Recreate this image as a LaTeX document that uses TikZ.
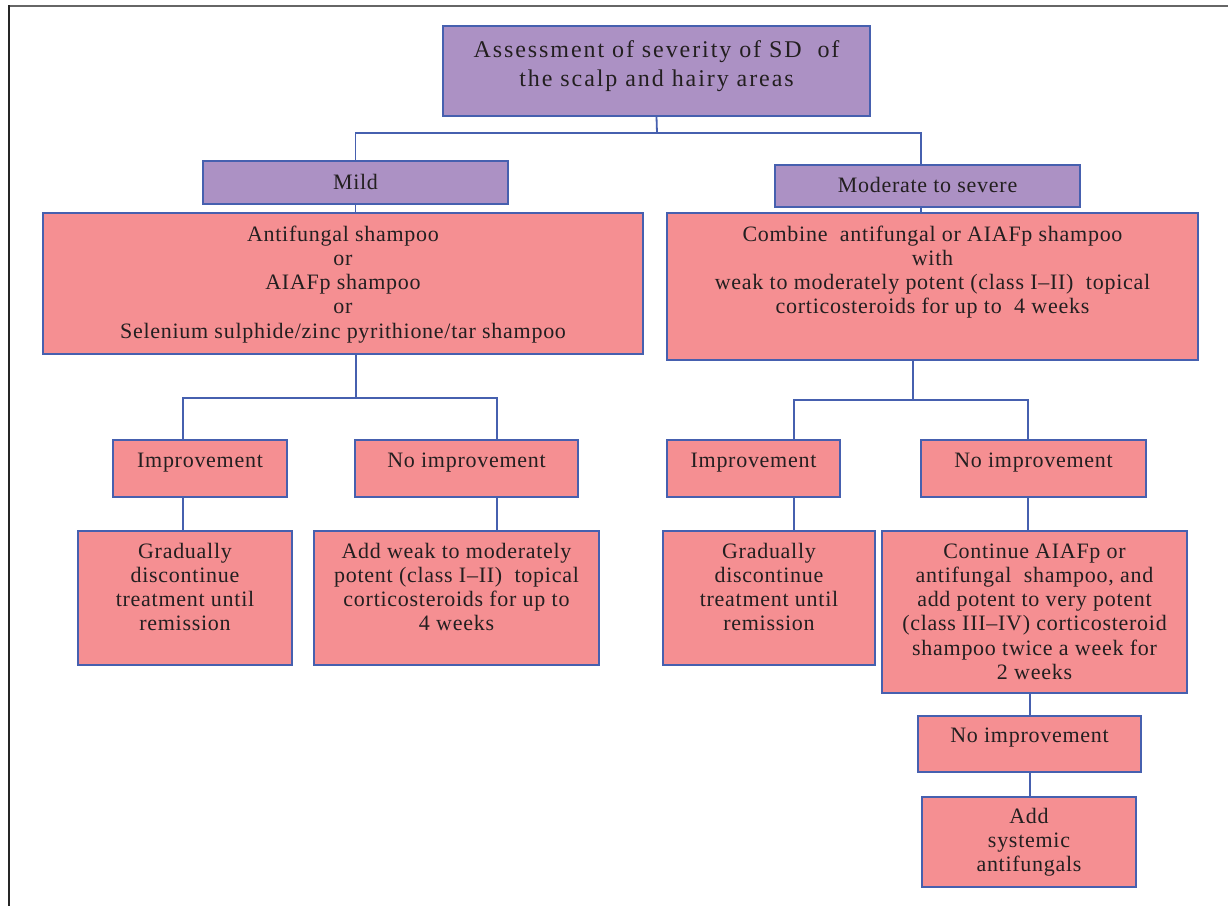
\documentclass[tikz,border=0pt]{standalone}
\usepackage{fontspec}
\setmainfont{Liberation Serif}
\newfontfamily\bodyfont[LetterSpace=3.3]{Liberation Serif}
\newfontfamily\titlefont[LetterSpace=8]{Liberation Serif}
\definecolor{purp}{HTML}{AC91C4}
\definecolor{pinkb}{HTML}{F58F92}
\definecolor{edge}{HTML}{4660AF}
\definecolor{ink}{HTML}{231F20}
\tikzset{
  box/.style={draw=edge, line width=1.6pt, inner sep=0pt},
  pbox/.style={box, fill=pinkb},
  vbox/.style={box, fill=purp},
  txt/.style={inner sep=0pt, anchor=base, text=ink, font=\bodyfont\fontsize{22}{24.3}\selectfont},
  ttl/.style={txt, font=\titlefont\fontsize{24}{29}\selectfont},
  conn/.style={draw=edge, line width=1.8pt},
}
% #1 name, #2 box style, #3 text style, #4 x1, #5 y1, #6 x2, #7 y2, #8 first baseline, #9 text
\newcommand\mybox[9]{%
  \node[#2, minimum width={#6-#4}, minimum height={#7-#5}] (#1) at ({(#4+#6)/2},{(#5+#7)/2}) {};%
  \node[#3] (#1-t) at ({(#4+#6)/2},#8) {\begin{tabular}[t]{@{}c@{}}#9\end{tabular}};%
}
\begin{document}
\begin{tikzpicture}[x=1pt,y=-1pt]
\useasboundingbox (0,0) rectangle (1228,906);
% frame
\draw[line width=2pt, draw=black!60] (8,6) -- (1228,6);
\draw[line width=2.5pt, draw=black!85] (9,5) -- (9,906);

\mybox{top}{vbox}{ttl}{443}{26}{870}{116}{57}{Assessment of severity of SD\ \ of\\the scalp and hairy areas}
\mybox{mild}{vbox}{txt}{203}{161}{508}{204}{189}{Mild}
\mybox{mod}{vbox}{txt}{775}{165}{1080}{207}{192}{Moderate to severe}
\mybox{lbig}{pbox}{txt}{43}{213}{643}{354}{241}{Antifungal shampoo\\or\\AIAFp shampoo\\or\\Selenium sulphide/zinc pyrithione/tar shampoo}
\mybox{rbig}{pbox}{txt}{667}{213}{1198}{360}{241}{Combine\ \ antifungal or AIAFp shampoo\\with\\weak to moderately potent (class I–II)\ \ topical\\corticosteroids for up to\ \ 4 weeks}
\mybox{impL}{pbox}{txt}{113}{440}{287}{497}{467}{Improvement}
\mybox{noL}{pbox}{txt}{355}{440}{578}{497}{467}{No improvement}
\mybox{gradL}{pbox}{txt}{78}{531}{292}{665}{558}{Gradually\\discontinue\\treatment until\\remission}
\mybox{addL}{pbox}{txt}{314}{531}{599}{665}{558}{Add weak to moderately\\potent (class I–II)\ \ topical\\corticosteroids for up to\\4 weeks}
\mybox{impR}{pbox}{txt}{667}{440}{840}{497}{467}{Improvement}
\mybox{noR}{pbox}{txt}{921}{440}{1146}{497}{467}{No improvement}
\mybox{gradR}{pbox}{txt}{663}{531}{875}{665}{558}{Gradually\\discontinue\\treatment until\\remission}
\mybox{cont}{pbox}{txt}{882}{531}{1187}{693}{558}{Continue AIAFp or\\antifungal\ \ shampoo, and\\add potent to very potent\\(class III–IV) corticosteroid\\shampoo twice a week for\\2 weeks}
\mybox{noB}{pbox}{txt}{918}{716}{1141}{772}{742}{No improvement}
\mybox{sys}{pbox}{txt}{922}{797}{1136}{887}{823}{Add\\systemic\\antifungals}

% connectors
\coordinate (b1) at (657,133);
\coordinate (b2) at (356,398);
\coordinate (b3) at (913,400);
\coordinate (b4) at (1030,0);
\draw[conn] (top.south) -- (b1);
\draw[conn] (mild.north) |- (b1) -| ([xshift=-6.5pt]mod.north);
\draw[conn] (mild.south) -- (mild.south |- lbig.north);
\draw[conn] ([xshift=-6.5pt]mod.south) -- ([xshift=-6.5pt]mod.south |- rbig.north);
\draw[conn] (lbig.south -| b2) -- (b2);
\draw[conn] ([xshift=-17pt]impL.north) |- (b2) -| ([xshift=30.5pt]noL.north);
\draw[conn] (rbig.south -| b3) -- (b3);
\draw[conn] ([xshift=40.5pt]impR.north) |- (b3) -| ([xshift=-5.5pt]noR.north);
\draw[conn] ([xshift=-17pt]impL.south) -- ([xshift=-17pt]impL.south |- gradL.north);
\draw[conn] ([xshift=30.5pt]noL.south) -- ([xshift=30.5pt]noL.south |- addL.north);
\draw[conn] ([xshift=40.5pt]impR.south) -- ([xshift=40.5pt]impR.south |- gradR.north);
\draw[conn] ([xshift=-5.5pt]noR.south) -- ([xshift=-5.5pt]noR.south |- cont.north);
\draw[conn] (cont.south -| b4) -- (noB.north -| b4);
\draw[conn] (noB.south -| b4) -- (sys.north -| b4);
\end{tikzpicture}
\end{document}
